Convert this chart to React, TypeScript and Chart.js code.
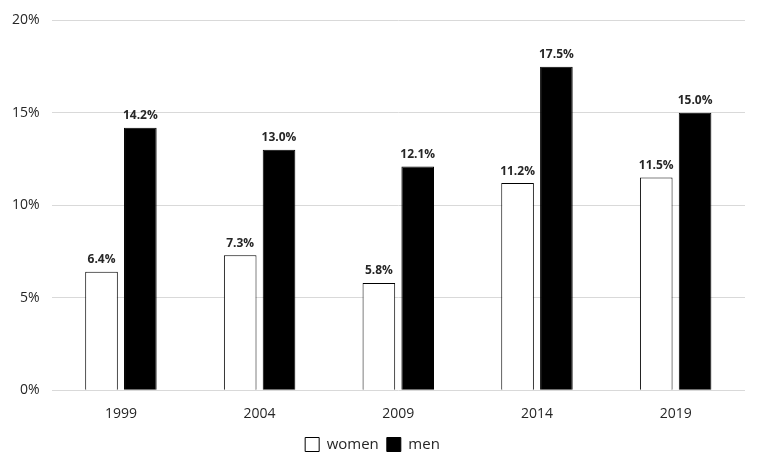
import React, { useEffect, useRef } from 'react';
import { Chart, registerables } from 'chart.js';

Chart.register(...registerables);

const years = ['1999', '2004', '2009', '2014', '2019'];
const women = [6.4, 7.3, 5.8, 11.2, 11.5];
const men = [14.2, 13.0, 12.1, 17.5, 15.0];

const FONT = '"Open Sans", "Liberation Sans", sans-serif';

// draws the value above each bar
const barLabels = {
  id: 'barLabels',
  afterDatasetsDraw(chart: any) {
    const { ctx } = chart;
    ctx.save();
    ctx.font = `bold 12px ${FONT}`;
    ctx.fillStyle = '#262626';
    ctx.textAlign = 'center';
    ctx.textBaseline = 'bottom';
    chart.data.datasets.forEach((ds: any, i: number) => {
      const meta = chart.getDatasetMeta(i);
      meta.data.forEach((bar: any, j: number) => {
        ctx.fillText(`${ds.data[j].toFixed(1)}%`, bar.x, bar.y - 6);
      });
    });
    ctx.restore();
  },
};

export default function App() {
  const chartRef = useRef<HTMLCanvasElement>(null);
  const chartInstance = useRef<Chart | null>(null);

  useEffect(() => {
    if (!chartRef.current) return;
    if (chartInstance.current) chartInstance.current.destroy();

    chartInstance.current = new Chart(chartRef.current, {
      type: 'bar',
      data: {
        labels: years,
        datasets: [
          {
            label: 'women',
            data: women,
            backgroundColor: '#ffffff',
            borderColor: '#000000',
            borderWidth: 1,
          },
          {
            label: 'men',
            data: men,
            backgroundColor: '#000000',
            borderColor: '#000000',
            borderWidth: 1,
          },
        ],
      },
      options: {
        animation: false,
        responsive: true,
        maintainAspectRatio: false,
        layout: { padding: { top: -6, right: 20, left: 0, bottom: -7 } },
        datasets: {
          bar: { categoryPercentage: 0.56, barPercentage: 0.84 },
        },
        plugins: {
          legend: {
            position: 'bottom',
            labels: {
              color: '#262626',
              font: { family: FONT, size: 15 },
              boxWidth: 14,
              boxHeight: 14,
              padding: 8,
            },
          },
          tooltip: { enabled: false },
        },
        scales: {
          x: {
            grid: { display: false },
            border: { display: false },
            ticks: {
              color: '#262626',
              font: { family: FONT, size: 14 },
              padding: 7,
            },
          },
          y: {
            min: 0,
            max: 20,
            grid: { color: '#d9d9d9', drawTicks: false },
            border: { display: false },
            ticks: {
              stepSize: 5,
              color: '#262626',
              font: { family: FONT, size: 14 },
              padding: 12,
              callback: (value) => `${value}%`,
            },
          },
        },
      },
      plugins: [barLabels],
    });

    return () => {
      if (chartInstance.current) {
        chartInstance.current.destroy();
        chartInstance.current = null;
      }
    };
  }, []);

  return (
    <div style={{ position: 'fixed', left: 0, top: 0, width: 765, height: 455 }}>
      <canvas ref={chartRef} />
    </div>
  );
}
